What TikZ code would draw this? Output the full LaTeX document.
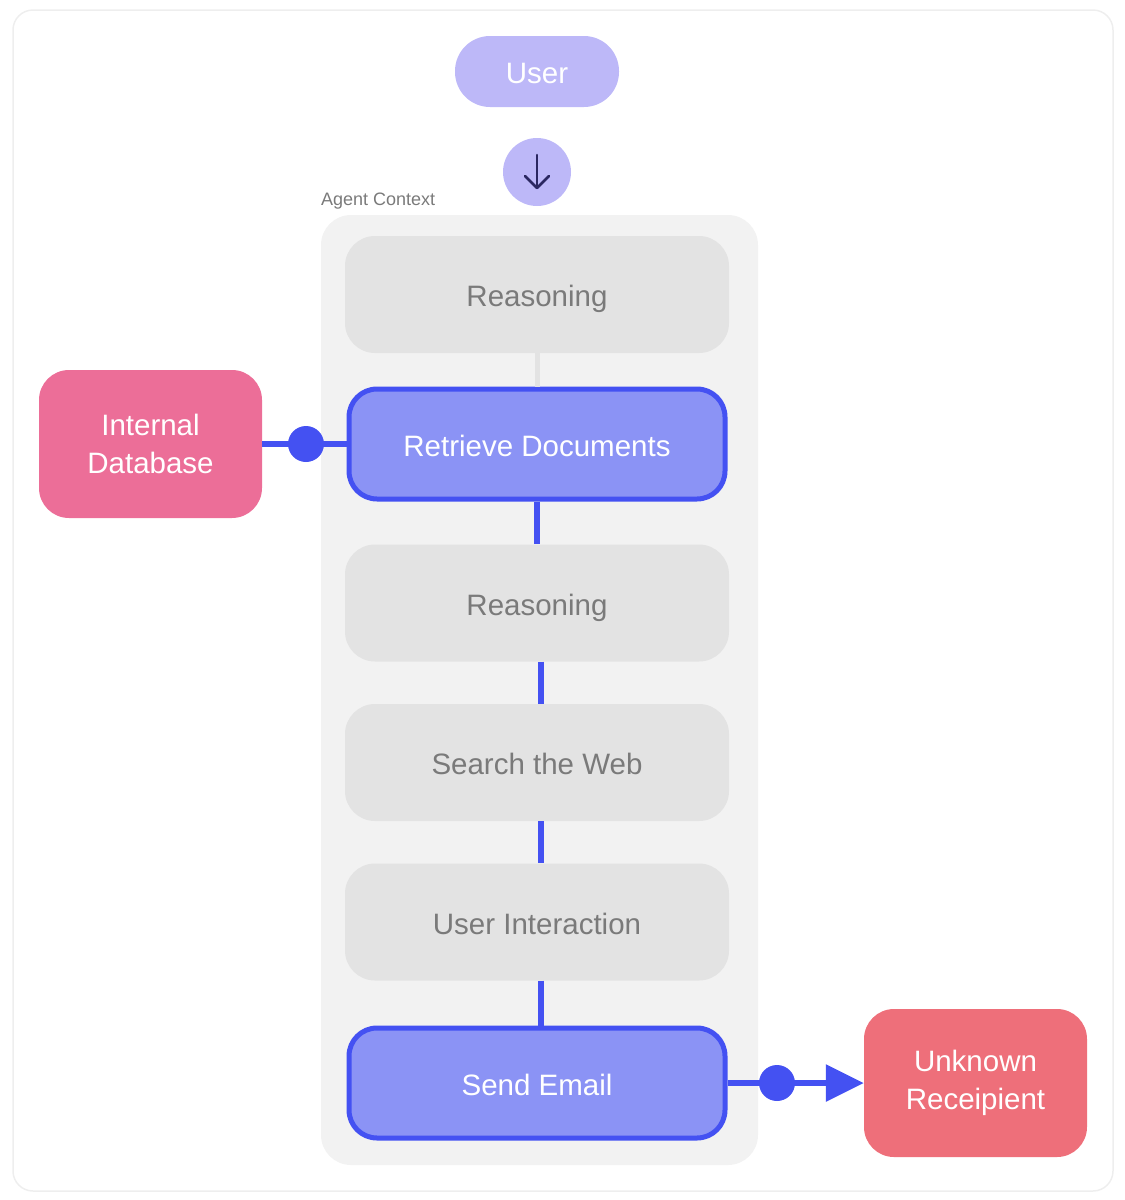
\documentclass[tikz,border=0pt]{standalone}
\usepackage{fontspec}
\setmainfont{Liberation Sans}
\usetikzlibrary{arrows.meta}
\definecolor{lav}{HTML}{BDB8F8}
\definecolor{navy}{HTML}{2B2761}
\definecolor{ctxbg}{HTML}{F2F2F2}
\definecolor{stepbg}{HTML}{E3E3E3}
\definecolor{stepfg}{HTML}{7A7A7A}
\definecolor{blue}{HTML}{4451F2}
\definecolor{bluefill}{HTML}{8B93F5}
\definecolor{pink}{HTML}{EC6E98}
\definecolor{redpink}{HTML}{EE6F7A}
\definecolor{frame}{HTML}{EEEEEE}
\tikzset{
  big/.style={font=\fontsize{29.5}{38}\selectfont},
  capcenter/.style={text height=24.2pt, text depth=0pt},
  graystep/.style={big, capcenter, fill=stepbg, text=stepfg, rounded corners=30pt, minimum width=384pt, minimum height=117pt, inner sep=0pt},
  bluestep/.style={big, capcenter, fill=bluefill, draw=blue, line width=5pt, text=white, rounded corners=28pt, minimum width=376pt, minimum height=110pt, inner sep=0pt},
  extbox/.style={big, text=white, rounded corners=30pt, minimum width=223pt, minimum height=148pt, inner sep=0pt, align=center},
  dot/.style={circle, fill=blue, minimum size=36pt, inner sep=0pt},
  conn/.style={blue, line width=6pt},
}
\begin{document}
\begin{tikzpicture}[x=1pt,y=-1pt]
\useasboundingbox (0,0) rectangle (1125,1200);
% outer frame
\draw[frame, line width=1.5pt, rounded corners=20pt] (13,10) rectangle (1113,1191);
% user
\node[big, capcenter, fill=lav, text=white, rounded corners=35pt, minimum width=164pt, minimum height=71pt, inner sep=0pt] (user) at (537,71.5) {User};
\node[circle, fill=lav, minimum size=68pt, inner sep=0pt] (down) at (537,172) {};
\draw[navy, line width=2.6pt, line cap=round, line join=round] ([yshift=17pt]down.center) -- ([yshift=-16pt]down.center);
\draw[navy, line width=2.6pt, line cap=round, line join=round] ([xshift=-12pt,yshift=-4pt]down.center) -- ([yshift=-16pt]down.center) -- ([xshift=12pt,yshift=-4pt]down.center);
% agent context
\node[anchor=base west, inner sep=0pt, text=stepfg, font=\fontsize{18}{22}\selectfont] (ctxlabel) at (321,205) {Agent Context};
\node[fill=ctxbg, rounded corners=30pt, minimum width=437pt, minimum height=950pt, inner sep=0pt] (ctx) at (539.5,690) {};
% steps
\node[graystep] (r1) at (537,294.5) {Reasoning};
\node[bluestep] (rd) at (537,444) {Retrieve Documents};
\node[graystep] (r2) at (537,603) {Reasoning};
\node[graystep] (sw) at (537,762.5) {Search the Web};
\node[graystep] (ui) at (537,922) {User Interaction};
\node[bluestep] (se) at (537,1083) {Send Email};
% external
\node[extbox, fill=pink] (db) at (150.5,444) {Internal\\Database};
\node[extbox, fill=redpink] (uk) at (975.5,1083) {Unknown\\Receipient};
% connectors
\draw[stepbg, line width=5pt] (r1.south) -- (rd.north);
\draw[conn] (rd.south) -- (r2.north);
\draw[conn] ([xshift=4pt]r2.south) -- ([xshift=4pt]sw.north);
\draw[conn] ([xshift=4pt]sw.south) -- ([xshift=4pt]ui.north);
\draw[conn] ([xshift=4pt]ui.south) -- ([xshift=4pt]se.north);
\draw[conn] (db.east) -- (rd.west);
\node[dot] (d1) at (306,444) {};
\draw[conn, -{Triangle[length=38pt,width=36pt]}] (se.east) -- (uk.west);
\node[dot] (d2) at (777,1083) {};
\end{tikzpicture}
\end{document}
